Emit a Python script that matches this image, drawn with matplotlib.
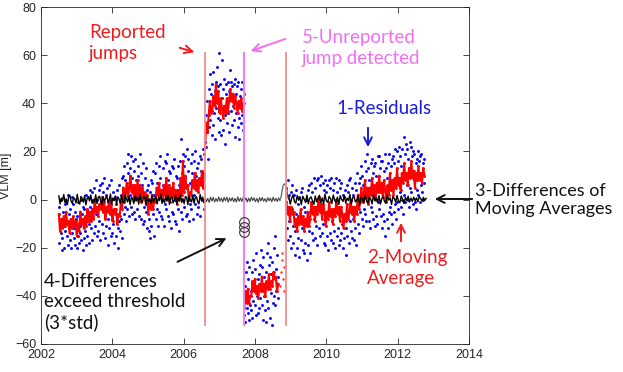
import numpy as np
import matplotlib
matplotlib.use("Agg")
import matplotlib.pyplot as plt

# ---------------- data ----------------
# segment time spans (decimal years)
span_A = (2002.5, 2006.58)
span_B = (2006.60, 2007.68)
span_C = (2007.70, 2008.65)
span_D = (2008.88, 2012.75)

resid_A = [-3,-18,-8,-14,0,-21, -16,-5,-20,-11,-2,-13, -1,-15,-9,2,-19,-6, -17,-4,-20,-10,-14,1,
           -2,-16,-12,-19,-5,-8, -20,-7,-15,-1,-18,-11, -14,0,-17,-6,-21,-3, -4,-16,-13,2,-19,-9,
           -15,1,-10,-18,-3,4, -12,3,-17,-5,-1,-14, 5,-11,-6,8,-15,0, -13,4,-9,6,-17,-1,
           7,-10,3,-14,9,-6, -16,2,-11,5,-8,-19, 6,-12,-1,-15,8,-7, -14,3,-10,-18,1,-4,
           -2,-15,4,-12,-20,-9, 6,-13,-8,2,-16,9, 10,-6,14,-3,8,-9, 15,-4,11,19,-7,2,
           13,-3,18,9,-6,16, 12,-5,17,-8,8,1, -4,14,10,-7,19,2, 11,-8,6,-10,15,-3,
           -9,9,-5,13,-12,4, 6,-13,-8,3,-16,8, -11,7,-6,12,-15,2, 11,-8,15,-4,7,-11,
           14,-5,9,18,-7,0, -8,13,6,-11,16,-2, 15,-4,19,8,-7,12, -9,11,4,-12,14,-5,
           13,-6,17,0,-9,10, -10,9,-4,14,-13,6, 16,-5,25,11,-8,19, 14,-3,18,9,-7,21,
           -6,12,17,-9,7,-2, 15,-4,11,19,-8,2, 16,-2,20,10,-6,13, -3,15,9,18,-7,12,
           17,0,21,11,-4,19]
mavg_A = [-6,-13,-8, -12,-7,-11, -5,-10,-9, -14,-8,-12, -7,-11,-9, -15,-10,-13, -5,-10,-8,
          -12,-7,-11, -4,-9,-5, -9,-4,-8, 0,-5,-3, -7,-2,-4, 1,-5,-1, -8,-3,-5, 0,-6,-2,
          -9,-4,-6, -4,-10,-6, -7,-1,-4, 5,-1,3, 7,1,5, 10,3,6, 0,6,2, 8,2,6, -1,5,1,
          3,-2,2, -6,0,-4, 2,-4,0, -1,5,2, 7,1,4, 0,6,2, 9,2,6, -1,5,1, 7,1,4, -2,4,0,
          9,2,16, 3,10,5, 6,0,3, 2,8,5, 11,4,8, 3,9,6, 12,5,10]

resid_B = [24,35,22,41,28,17, 46,30,52,33,44,27, 48,31,53,36,45,25, 49,38,55,34,47,28,
           61,33,48,27,58,42, 46,29,50,35,23,44, 48,32,49,36,28,45, 54,37,49,31,47,39,
           48,33,50,26,44,36, 47,30,49,34,25,43, 46,32,49,35,29,44]
mavg_B = [22,32,28, 35,41,36, 37,43,39, 48,40,45, 36,42,38, 34,39,36, 42,37,41,
          46,41,44, 38,43,40, 36,41,38, 42,37,40]

resid_C = [-48,-36,-51,-30,-45,-26, -47,-33,-50,-28,-44,-38, -46,-30,-49,-25,-42,-34,
           -44,-29,-48,-22,-40,-33, -47,-31,-45,-27,-41,-21, -44,-28,-50,-24,-40,-32,
           -46,-30,-51,-22,-42,-18, -45,-27,-49,-24,-39,-31, -52,-26,-43,-20,-40,-15,
           -44,-29,-38,-23,-41,-32]
mavg_C = [-45,-38,-43, -37,-43,-40, -40,-34,-38, -33,-39,-36, -41,-35,-38, -32,-38,-35,
          -40,-34,-37, -31,-37,-34, -36,-30,-33, -32,-38,-35]

gap_years = [2008.70, 2008.72, 2008.75, 2008.77, 2008.78, 2008.80, 2008.82]
gap_mavg = [-36, -30, -25, -22, -33, -28, -38]

resid_D = [5,-12,8,-17,2,-9, -15,3,-20,-4,6,-11, -18,2,-13,-23,4,-6, -20,-2,-16,1,-24,-8,
           3,-17,-12,5,-21,-3, -22,-5,-18,0,-25,-10, 4,-19,-13,6,-22,-2, 7,-14,3,-17,9,-8,
           -16,5,-11,8,-19,0, 9,-12,6,-15,10,-4, -14,7,-10,4,-18,8, -19,3,-15,6,-21,-6,
           8,-14,5,-17,9,-9, -18,4,-13,7,-20,-2, 9,-15,3,-12,8,-19, -17,5,-14,7,-10,2,
           -20,1,-16,4,-23,-12, 6,-15,3,-18,8,-9, 9,-13,5,-16,2,-8, -17,7,-12,4,-19,-3,
           11,-10,7,-14,9,-5, 14,-8,10,-11,6,-4, 16,-6,12,-9,19,0, 13,-9,8,-12,15,-3,
           17,-5,11,-8,14,-11, 15,-7,10,-10,18,-1, 18,-4,13,-7,16,-12, 16,-6,12,-9,19,-15,
           13,-8,9,-12,15,-5, 19,-3,14,-6,17,-10, 18,-5,15,-2,21,-8, 20,-1,16,-4,22,3,
           18,-3,14,0,21,-6, 26,2,19,-1,23,6, 21,0,17,-3,24,5, 22,3,18,-2,20,8,
           19,-1,15,-4,17,4, 20,2,16,-1,18,6, 19,3,15,0,17,7]
mavg_D = [-1,-6,-3, -9,-3,-6, -5,-11,-8, -13,-7,-10, -4,-10,-7, -13,-8,-11, -5,-11,-8,
          -1,-6,-3, -9,-3,-6, 1,-5,-2, -8,-2,-5, -11,-5,-8, -1,-7,-4, -10,-4,-7, 0,-6,-3,
          -9,-3,-6, -12,-6,-9, -2,-8,-5, 0,-6,-3, -9,-3,-6, 2,-4,-1, 5,-1,2, 8,1,5,
          -2,5,2, 9,2,6, 0,7,3, 10,3,7, 1,8,4, -1,6,2, 11,4,8, 2,9,5, 13,6,9, 4,11,7,
          15,8,11, 6,13,9, 16,9,12, 5,11,8, 14,8,11, 7,13,10]

# differences of moving averages
span_dA = (2002.5, 2006.6)
span_dBC = (2006.6, 2008.7)
span_bump = (2008.7, 2008.95)
span_dD = (2008.95, 2012.8)
diff_A = [1.5,-1.8,0.6,-0.4,2.1,-1.2,0.3,-2.0,1.1,1.8,-0.7,-1.6,0.9,0.2,-1.4,2.2,-0.8,-1.9,1.3,0.5,
          -1.1,1.7,-2.2,0.4,1.0,-0.6,1.9,-1.5,0.1,-1.0,2.0,-1.7,0.8,1.4,-0.3,-2.1,1.2,-0.9,0.6,1.6,
          -1.3,-0.2,2.3,-1.8,0.7,-0.5,1.5,-2.0,1.1,0.3,-1.6,1.8,-0.9,-1.4,2.1,0.2,-1.0,1.3,-2.1,0.9,
          0.4,-1.7,1.6,-0.6,1.0,-1.9,2.0,-0.3,-1.2,1.4,0.7,-2.2,1.7,-0.8,0.2,-1.5,1.9,-1.1,0.5,1.2,
          -1.8,0.8,-0.4,2.2,-1.6,0.3,-1.3,1.5,-0.7,1.8,-2.0,0.6,1.1,-1.4,0.1,1.7,-1.9,0.9,-0.5,2.0,
          -1.2,0.4,-1.7,1.3,0.8,-2.1,1.6,-0.2,-1.0,1.9,-1.5,0.7,1.2,-0.9,-1.8,2.1,-0.4,1.0,-1.3,0.5]
diff_BC = [0.8,-0.9,0.5,-1.2,1,-0.6,0.9,-1,0.4,-0.8,1.1,-0.7,0.6,-1,0.9,-0.5,1,-1.1,0.7,
           -0.6,0.8,-0.9,0.5,-1,1.1,-0.7,0.6,-0.8,0.9,-0.5,0.7,-1,0.6,-0.8,1.0,-0.4,0.7,-0.9,
           0.5,-1.1,0.8,-0.6,0.9,-0.7,0.4,-1.0,0.8,-0.5,0.6,-0.9,1.0,-0.6,0.5,-0.8,0.7,-0.4]
diff_bump = [0, 1, 4, 6, 6.5, 6, 5, 1, 0]
diff_D = [1.2,-1.9,0.5,2.0,-0.8,-1.5,1.7,-0.3,0.9,-2.1,1.4,0.2,-1.2,1.9,-1.7,0.6,1.1,-0.5,-2.0,1.5,
          -0.9,0.3,1.8,-1.4,0.7,-1.8,2.2,-0.6,-1.1,1.3,0.4,-1.6,1.9,-0.2,-1.3,1.0,-2.0,1.6,0.1,-0.8,
          1.7,-1.5,0.6,-0.4,2.1,-1.9,0.8,1.2,-1.0,-0.3,1.5,-2.2,0.9,0.5,-1.4,1.8,-0.7,-1.6,1.1,0.3,
          -1.8,2.0,-0.5,0.8,-1.2,1.6,-1.9,0.4,1.3,-0.9,-1.5,1.9,-0.2,0.7,-2.0,1.2,0.5,-1.1,1.7,-0.6,
          -1.3,1.5,0.2,-1.7,0.9,-0.4,1.4,-1.0,0.6,-0.8,1.0,-0.5,0.7,-0.9,1.2,0.4,-0.6,0.9,-0.3,0.5]

# jumps
reported_jumps = [2006.59, 2008.86]
unreported_jump = [2007.69]
jump_line_range = (-52, 61)
exceed_years = [2007.68, 2007.70, 2007.69]
exceed_vals = [-9.5, -11.5, -13.5]

# ---------------- figure ----------------
W, H = 623, 372
fig = plt.figure(figsize=(W / 100, H / 100), dpi=100)
ax = fig.add_axes([41 / W, 1 - 344 / H, (469 - 41) / W, (344 - 7) / H])

def tl(span, vals):
    return np.linspace(span[0], span[1], len(vals))

for span, r in [(span_A, resid_A), (span_B, resid_B), (span_C, resid_C), (span_D, resid_D)]:
    ax.plot(tl(span, r), r, ".", color="#0000FF", ms=4.2, mew=0)
for span, m in [(span_A, mavg_A), (span_B, mavg_B), (span_C, mavg_C), (span_D, mavg_D)]:
    ax.plot(tl(span, m), m, ".-", color="#FF0000", ms=4.2, mew=0, lw=1.5)
ax.plot(gap_years, gap_mavg, ".", color="#FF3030", ms=3.5, mew=0)

ax.plot(tl(span_dA, diff_A), diff_A, "-", color="black", lw=1.0)
ax.plot(tl(span_dBC, diff_BC), diff_BC, "-", color="#404040", lw=0.8)
ax.plot(tl(span_bump, diff_bump), diff_bump, "-", color="#606060", lw=0.9)
ax.plot(tl(span_dD, diff_D), diff_D, "-", color="black", lw=1.0)

for xj in reported_jumps:
    ax.plot([xj, xj], jump_line_range, "-", color="#F08C8C", lw=1.3)
for xj in unreported_jump:
    ax.plot([xj, xj], jump_line_range, "-", color="#EE82EE", lw=1.5)

ax.plot(exceed_years, exceed_vals, "o", mfc="none", mec="#333333", ms=7.0, mew=0.8)

ax.set_xlim(2002, 2014)
ax.set_ylim(-60, 80)
ax.set_xticks(range(2002, 2015, 2))
ax.set_yticks(range(-60, 81, 20))
ax.tick_params(direction="in", top=True, right=True, length=4, width=0.6,
               colors="#262626", labelsize=9)
for lab in ax.get_xticklabels() + ax.get_yticklabels():
    lab.set_fontfamily("Liberation Sans")
for s in ax.spines.values():
    s.set_color("#262626")
    s.set_linewidth(0.6)
ax.set_ylabel("VLM [m]", fontsize=9, family="Liberation Sans", color="#262626", labelpad=2)

# ---------------- annotations ----------------
fam = ["Lato", "DejaVu Sans"]
fs = 13.5

def ftxt(x, y, s, c, size=fs):
    fig.text(x / W, 1 - y / H, s, color=c, fontsize=size, family=fam, ha="left", va="center",
             linespacing=1.22)

def farrow(x0, y0, x1, y1, c):
    fig.add_artist(matplotlib.patches.FancyArrowPatch(
        (x0 / W, 1 - y0 / H), (x1 / W, 1 - y1 / H), transform=fig.transFigure,
        arrowstyle="->", mutation_scale=14, color=c, lw=1.4))

ftxt(89, 43, "Reported\njumps", "#EE1C1C")
farrow(177, 47, 197, 53, "#EE1C1C")
ftxt(302, 48, "5-Unreported\njump detected", "#F070F0")
farrow(288, 38, 248, 52, "#F070F0")
ftxt(336, 108, "1-Residuals", "#1A1AE0")
farrow(368, 125, 368, 150, "#1A1AE0")
ftxt(475, 200, "3-Differences of\nMoving Averages", "#111111", 13)
farrow(475, 199, 432, 199, "#111111")
ftxt(367, 268, "2-Moving\nAverage", "#EE1C1C")
farrow(401, 244, 401, 220, "#EE1C1C")
ftxt(44, 302, "4-Differences\nexceed threshold\n(3*std)", "#111111")
farrow(175, 263, 229, 237, "#111111")

fig.savefig("out.png", dpi=100)
